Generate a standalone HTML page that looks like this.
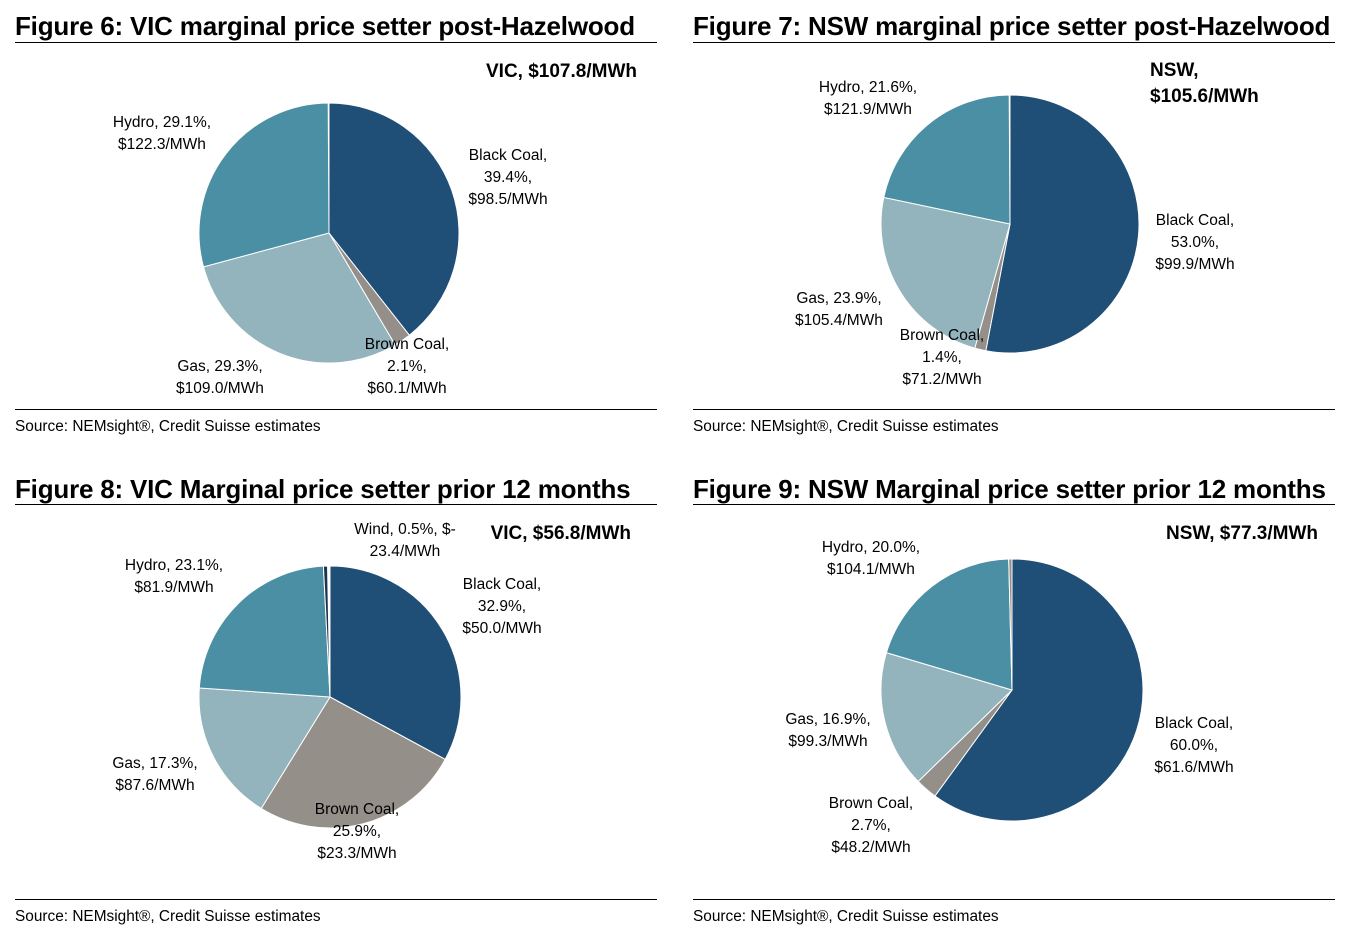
<!DOCTYPE html>
<html><head><meta charset="utf-8"><style>
body{margin:0;background:#fff;width:1348px;height:935px;position:relative;overflow:hidden;font-family:"Liberation Sans",sans-serif}
.t{position:absolute;font-weight:bold;font-size:26px;color:#000;white-space:nowrap;letter-spacing:-0.2px}
.ln{position:absolute;height:1px;background:#000}
.src{position:absolute;font-size:15.4px;color:#000;white-space:nowrap}
svg{position:absolute;left:0;top:0}
</style></head><body>
<div class="t" style="left:15px;top:11px">Figure 6: VIC marginal price setter post-Hazelwood</div>
<div class="t" style="left:693px;top:11px">Figure 7: NSW marginal price setter post-Hazelwood</div>
<div class="t" style="left:15px;top:474px">Figure 8: VIC Marginal price setter prior 12 months</div>
<div class="t" style="left:693px;top:474px">Figure 9: NSW Marginal price setter prior 12 months</div>
<div class="ln" style="left:15px;top:42px;width:642px"></div>
<div class="ln" style="left:693px;top:42px;width:642px"></div>
<div class="ln" style="left:15px;top:504px;width:642px"></div>
<div class="ln" style="left:693px;top:504px;width:642px"></div>
<div class="ln" style="left:15px;top:409px;width:642px"></div>
<div class="ln" style="left:693px;top:409px;width:642px"></div>
<div class="ln" style="left:15px;top:899px;width:642px"></div>
<div class="ln" style="left:693px;top:899px;width:642px"></div>
<div class="src" style="left:15px;top:418px">Source: NEMsight®, Credit Suisse estimates</div>
<div class="src" style="left:693px;top:418px">Source: NEMsight®, Credit Suisse estimates</div>
<div class="src" style="left:15px;top:908px">Source: NEMsight®, Credit Suisse estimates</div>
<div class="src" style="left:693px;top:908px">Source: NEMsight®, Credit Suisse estimates</div>
<svg id="s" width="1348" height="935"></svg>
<script>
const fuels6=["Black Coal","Brown Coal","Gas","Hydro"];
const shares6=[39.4,2.1,29.3,29.1];
const prices6=["$98.5/MWh","$60.1/MWh","$109.0/MWh","$122.3/MWh"];
const fuels7=["Black Coal","Brown Coal","Gas","Hydro"];
const shares7=[53.0,1.4,23.9,21.6];
const prices7=["$99.9/MWh","$71.2/MWh","$105.4/MWh","$121.9/MWh"];
const fuels8=["Black Coal","Brown Coal","Gas","Hydro","Wind"];
const shares8=[32.9,25.9,17.3,23.1,0.5];
const prices8=["$50.0/MWh","$23.3/MWh","$87.6/MWh","$81.9/MWh","$-23.4/MWh"];
const fuels9=["Black Coal","Brown Coal","Gas","Hydro","Other"];
const shares9=[60.0,2.7,16.9,20.0,0.4];
const prices9=["$61.6/MWh","$48.2/MWh","$99.3/MWh","$104.1/MWh",""];
const colors={"Black Coal":"#1f4e76","Brown Coal":"#958f8a","Gas":"#93b3bd","Hydro":"#4a8fa3","Wind":"#1b3350","Other":"#958f8a"};
const NS="http://www.w3.org/2000/svg";
const svg=document.getElementById('s');
function pie(id,cx,cy,r,fuels,shares){
  const tot=shares.reduce((a,b)=>a+b,0);
  let a0=-Math.PI/2;
  shares.forEach((v,i)=>{
    const a1=a0+v/Math.max(tot,100)*2*Math.PI;
    const x0=cx+r*Math.cos(a0),y0=cy+r*Math.sin(a0),x1=cx+r*Math.cos(a1),y1=cy+r*Math.sin(a1);
    const p=document.createElementNS(NS,'path');
    p.setAttribute('d',`M${cx},${cy}L${x0},${y0}A${r},${r} 0 ${(a1-a0)>Math.PI?1:0} 1 ${x1},${y1}Z`);
    p.setAttribute('fill',colors[fuels[i]]);p.setAttribute('stroke','#fff');p.setAttribute('stroke-width','1');
    
    
    svg.appendChild(p);a0=a1;
  });
}
function lbl(x,y,lines,opt){
  const t=document.createElementNS(NS,'text');
  t.setAttribute('x',x);t.setAttribute('y',y);t.setAttribute('text-anchor',opt&&opt.anchor||'middle');
  t.setAttribute('font-family','"Liberation Sans",sans-serif');
  t.setAttribute('font-size',opt&&opt.size||15.5);
  if(opt&&opt.bold)t.setAttribute('font-weight','bold');
  
  
  lines.forEach((s,i)=>{const ts=document.createElementNS(NS,'tspan');ts.setAttribute('x',x);ts.setAttribute('dy',i?(opt&&opt.dy||22):0);ts.textContent=s;t.appendChild(ts);});
  svg.appendChild(t);
}
pie('fig6',329,233,130,fuels6,shares6);
pie('fig7',1010,224,129,fuels7,shares7);
pie('fig8',330,697,131,fuels8,shares8);
pie('fig9',1012,690,131,fuels9,shares9);
const f=v=>v.toFixed(1)+'%,';
lbl(508,160,[fuels6[0]+',',f(shares6[0]),prices6[0]]);
lbl(407,349,[fuels6[1]+',',f(shares6[1]),prices6[1]]);
lbl(220,371,[fuels6[2]+', '+shares6[2].toFixed(1)+'%,',prices6[2]]);
lbl(162,127,[fuels6[3]+', '+shares6[3].toFixed(1)+'%,',prices6[3]]);
lbl(637,77,["VIC, $107.8/MWh"],{anchor:'end',size:19,bold:true,name:'fig6-total-price'});
lbl(1195,225,[fuels7[0]+',',f(shares7[0]),prices7[0]]);
lbl(942,340,[fuels7[1]+',',f(shares7[1]),prices7[1]]);
lbl(839,303,[fuels7[2]+', '+shares7[2].toFixed(1)+'%,',prices7[2]]);
lbl(868,92,[fuels7[3]+', '+shares7[3].toFixed(1)+'%,',prices7[3]]);
lbl(1150,76,["NSW,","$105.6/MWh"],{anchor:'start',size:19,bold:true,name:'fig7-total-price',dy:26});
lbl(502,589,[fuels8[0]+',',f(shares8[0]),prices8[0]]);
lbl(357,814,[fuels8[1]+',',f(shares8[1]),prices8[1]]);
lbl(155,768,[fuels8[2]+', '+shares8[2].toFixed(1)+'%,',prices8[2]]);
lbl(174,570,[fuels8[3]+', '+shares8[3].toFixed(1)+'%,',prices8[3]]);
lbl(405,534,[fuels8[4]+', '+shares8[4].toFixed(1)+'%, $-','23.4/MWh']);
lbl(631,539,["VIC, $56.8/MWh"],{anchor:'end',size:19,bold:true,name:'fig8-total-price'});
lbl(1194,728,[fuels9[0]+',',f(shares9[0]),prices9[0]]);
lbl(871,808,[fuels9[1]+',',f(shares9[1]),prices9[1]]);
lbl(828,724,[fuels9[2]+', '+shares9[2].toFixed(1)+'%,',prices9[2]]);
lbl(871,552,[fuels9[3]+', '+shares9[3].toFixed(1)+'%,',prices9[3]]);
lbl(1318,539,["NSW, $77.3/MWh"],{anchor:'end',size:19,bold:true,name:'fig9-total-price'});
</script>
</body></html>
